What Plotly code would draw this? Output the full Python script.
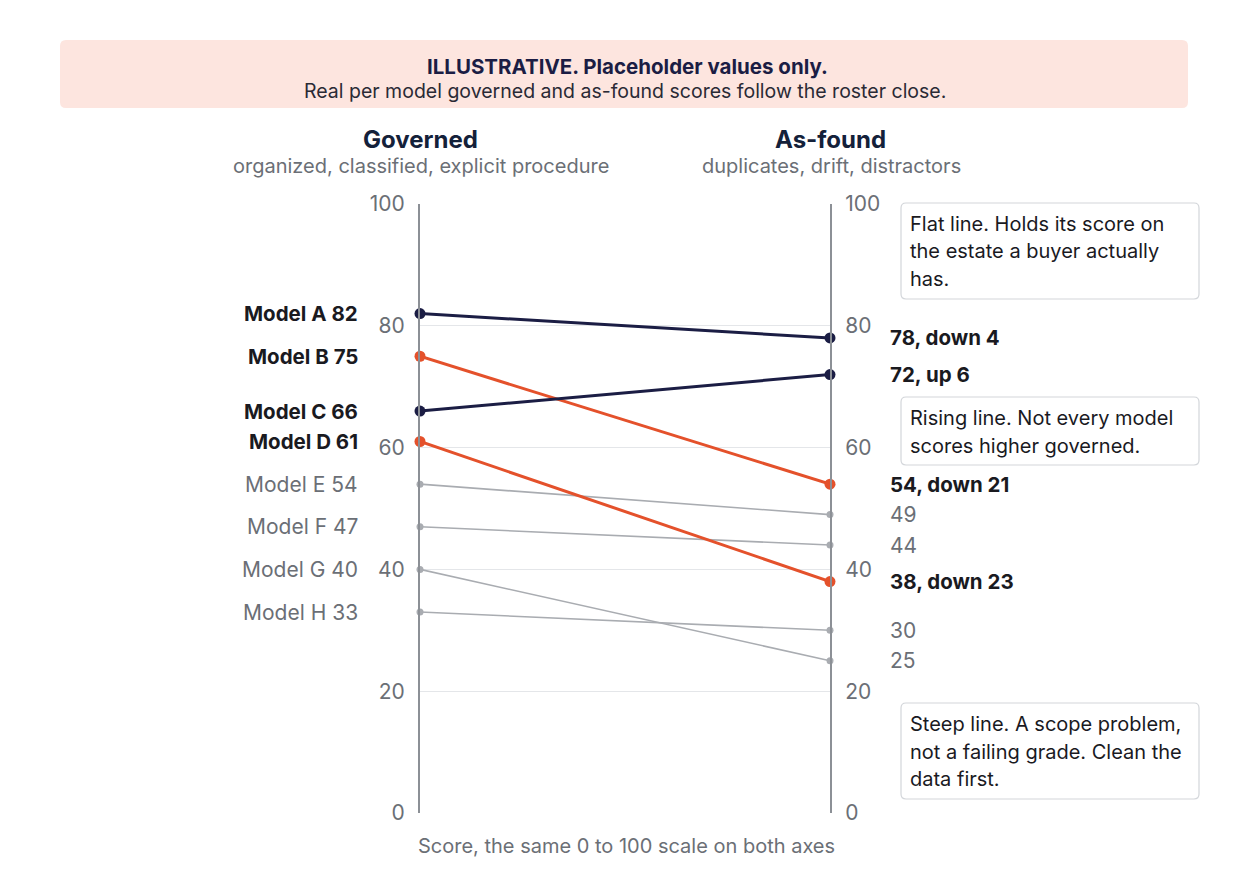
import plotly.graph_objects as go

# data
models = ["Model A", "Model B", "Model C", "Model D", "Model E", "Model F", "Model G", "Model H"]
governed = [82, 75, 66, 61, 54, 47, 40, 33]
as_found = [78, 54, 72, 38, 49, 44, 25, 30]
highlight = [True, True, True, True, False, False, False, False]
series_colors = ["#1b1d44", "#e4512b", "#1b1d44", "#e4512b", "#a9acb1", "#a9acb1", "#a9acb1", "#a9acb1"]
y_ticks = [0, 20, 40, 60, 80, 100]

FONT = "Inter"
INK = "#1a1a1f"
GREY_TXT = "#6b6f76"
OFF = 8  # page body margin
W, H = 1248 - OFF, 883 - OFF
L, T = 420 - OFF, 204 - OFF
PW, PH = 410, 609
R, B = W - L - PW, H - T - PH


def px2paper(x, y):
    # reference pixel -> paper coords
    return (x - OFF - L) / PW, (T + PH - (y - OFF)) / PH


def round_rect(x0, y0, x1, y1, r=6):
    ax0, ay0 = px2paper(x0, y0)
    ax1, ay1 = px2paper(x1, y1)
    rx, ry = r / PW, r / PH
    return (f"M {ax0+rx},{ay0} L {ax1-rx},{ay0} Q {ax1},{ay0} {ax1},{ay0-ry} "
            f"L {ax1},{ay1+ry} Q {ax1},{ay1} {ax1-rx},{ay1} "
            f"L {ax0+rx},{ay1} Q {ax0},{ay1} {ax0},{ay1+ry} "
            f"L {ax0},{ay0-ry} Q {ax0},{ay0} {ax0+rx},{ay0} Z")


fig = go.Figure()

# grey lines first, highlighted on top
order = [i for i in range(len(models)) if not highlight[i]] + [i for i in range(len(models)) if highlight[i]]
for i in order:
    hl = highlight[i]
    fig.add_trace(go.Scatter(
        x=[0, 1], y=[governed[i], as_found[i]],
        mode="lines+markers",
        line=dict(color=series_colors[i], width=3 if hl else 1.6),
        marker=dict(size=11 if hl else 7, color=series_colors[i]),
        cliponaxis=False, showlegend=False, hoverinfo="skip",
    ))

# dummy trace for right axis
fig.add_trace(go.Scatter(x=[0], y=[0], yaxis="y2", mode="markers",
                         marker=dict(opacity=0), showlegend=False, hoverinfo="skip"))

annotations = []
for i, m in enumerate(models):
    hl = highlight[i]
    annotations.append(dict(
        x=0, y=governed[i], xref="x", yref="y", xanchor="right", yanchor="middle",
        xshift=-60, showarrow=False, text=f"<b>{m} {governed[i]}</b>" if hl else f"{m} {governed[i]}",
        font=dict(family=FONT, size=20.5 if hl else 21, color=INK if hl else GREY_TXT),
    ))
    diff = as_found[i] - governed[i]
    if hl:
        word = "up" if diff > 0 else "down"
        rt = f"<b>{as_found[i]}, {word} {abs(diff)}</b>"
    else:
        rt = f"{as_found[i]}"
    annotations.append(dict(
        x=1, y=as_found[i], xref="x", yref="y", xanchor="left", yanchor="middle",
        xshift=58, showarrow=False, text=rt,
        font=dict(family=FONT, size=20.5 if hl else 21, color=INK if hl else GREY_TXT),
    ))


def pa(x, y, text, size, color, xanchor="center", bold=False):
    xp, yp = px2paper(x, y)
    annotations.append(dict(
        x=xp, y=yp, xref="paper", yref="paper", xanchor=xanchor, yanchor="middle",
        showarrow=False, text=f"<b>{text}</b>" if bold else text,
        font=dict(family=FONT, size=size, color=color),
        borderpad=0,
    ))


# banner
pa(627, 67, "ILLUSTRATIVE. Placeholder values only.", 20.5, "#1b1d44", bold=True)
pa(625, 91, "Real per model governed and as-found scores follow the roster close.", 19.5, "#2a2a35")

# column headers
pa(420, 139, "Governed", 24, "#14213a", bold=True)
pa(421, 166, "organized, classified, explicit procedure", 20, GREY_TXT)
pa(830, 139, "As-found", 24, "#14213a", bold=True)
pa(831, 166, "duplicates, drift, distractors", 20, GREY_TXT)

# caption
pa(626, 846, "Score, the same 0 to 100 scale on both axes", 20, GREY_TXT)

# note boxes
notes = [
    (203, 299, ["Flat line. Holds its score on", "the estate a buyer actually", "has."]),
    (397, 465, ["Rising line. Not every model", "scores higher governed."]),
    (703, 799, ["Steep line. A scope problem,", "not a failing grade. Clean the", "data first."]),
]
shapes = [dict(type="path", xref="paper", yref="paper",
               path=round_rect(60, 40, 1188, 108, 6), fillcolor="#fde5df", line=dict(width=0), layer="below")]
for top, bot, lines in notes:
    shapes.append(dict(type="path", xref="paper", yref="paper", path=round_rect(901, top, 1199, bot, 5),
                       fillcolor="white", line=dict(color="#d3d6da", width=1.2)))
    for k, ln in enumerate(lines):
        pa(909, top + 21 + k * 27.5, ln, 20, INK, xanchor="left")

axis_common = dict(range=[0, 100], tickvals=y_ticks, showline=True, linecolor="#8c9096", linewidth=2,
                   ticks="", tickfont=dict(family=FONT, size=21, color=GREY_TXT), zeroline=False,
                   fixedrange=True)

fig.update_layout(
    width=W, height=H,
    margin=dict(l=L, r=R, t=T, b=B, pad=0),
    paper_bgcolor="white", plot_bgcolor="white",
    xaxis=dict(range=[0, 1], showgrid=False, showticklabels=False, zeroline=False, showline=False),
    yaxis=dict(**axis_common, side="left", showgrid=True, gridcolor="#e4e6e9", gridwidth=1,
               ticklabelstandoff=9),
    yaxis2=dict(**axis_common, side="right", overlaying="y", showgrid=False, ticklabelstandoff=9),
    annotations=annotations,
    shapes=shapes,
    font=dict(family=FONT),
)

fig.write_html("out.html")
